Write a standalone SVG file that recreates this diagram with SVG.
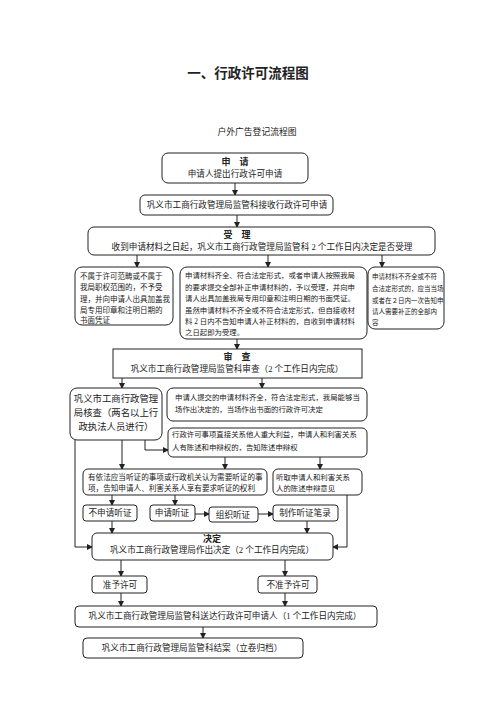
<svg xmlns="http://www.w3.org/2000/svg" width="496" height="702" viewBox="0 0 496 702">
<style>
text{font-family:"Liberation Serif","Noto Sans CJK SC",serif;fill:#222;text-anchor:middle}
.b{fill:#fff;stroke:#222;stroke-width:1}
.t{font-size:8.6px}
.s{font-size:7.4px;text-anchor:start}
.l{font-size:7.5px;text-anchor:start}
.r{font-size:6.5px;text-anchor:start}
.h{font-size:9px;font-weight:bold;font-family:"Noto Sans CJK SC",sans-serif}
.c{fill:none;stroke:#222;stroke-width:1;marker-end:url(#a)}
</style>
<defs>
<marker id="a" markerWidth="6" markerHeight="6" refX="5" refY="3" orient="auto" markerUnits="userSpaceOnUse">
<path d="M0,0 L6,3 L0,6 z" fill="#222"/>
</marker>
</defs>
<rect width="496" height="702" fill="#fff"/>
<text x="248" y="78" style="font-size:13.5px;font-weight:bold;font-family:'Noto Sans CJK SC',sans-serif">一、行政许可流程图</text>
<text x="257" y="135" style="font-size:8.8px;font-family:'Noto Sans CJK SC',sans-serif">户外广告登记流程图</text>

<g id="connectors">
<path class="c" d="M235,183 V195"/>
<path class="c" d="M237,215 V227"/>
<path class="c" d="M137,255 V267"/>
<path class="c" d="M268,255 V267"/>
<path class="c" d="M382,255 V267"/>
<path class="c" d="M237,339 V349"/>
<path class="c" d="M122,378 V388"/>
<path class="c" d="M262,378 V388"/>
<path class="c" d="M122,440 V469"/>
<path class="c" d="M145,440 V450 H168"/>
<path class="c" d="M75,440 V547 H92"/>
<path class="c" d="M225,457 V469"/>
<path class="c" d="M320,457 V469"/>
<path class="c" d="M347,495 V547 H333"/>
<path class="c" d="M112,495 V505"/>
<path class="c" d="M175,495 V505"/>
<path class="c" d="M195,514 H209"/>
<path class="c" d="M258,514 H273"/>
<path class="c" d="M112,521 V533"/>
<path class="c" d="M307,521 V533"/>
<path class="c" d="M121,560 V576"/>
<path class="c" d="M285,560 V576"/>
<path class="c" d="M121,593 V606"/>
<path class="c" d="M285,593 V606"/>
<path class="c" d="M203,627 V638"/>
</g>

<g id="n1"><rect class="b" x="162" y="153" width="146" height="30" rx="6"/>
<text class="h" x="235" y="165">申　请</text>
<text class="t" x="235" y="177">申请人提出行政许可申请</text></g>

<g id="n2"><rect class="b" x="140" y="195" width="193" height="20" rx="5"/>
<text class="t" x="237" y="208">巩义市工商行政管理局监管科接收行政许可申请</text></g>

<g id="n3"><rect class="b" x="88" y="227" width="347" height="28" rx="6"/>
<text class="h" x="237" y="238">受　理</text>
<text class="t" x="262" y="250">收到申请材料之日起，巩义市工商行政管理局监管科 2 个工作日内决定是否受理</text></g>

<g id="n4"><rect class="b" x="75" y="267" width="98" height="58" rx="7"/>
<text class="l" x="80" y="279">不属于许可范畴或不属于</text>
<text class="l" x="80" y="290">我局职权范围的，不予受</text>
<text class="l" x="80" y="302">理，并向申请人出具加盖我</text>
<text class="l" x="80" y="313">局专用印章和注明日期的</text>
<text class="l" x="80" y="323">书面凭证</text></g>

<g id="n5"><rect class="b" x="180" y="267" width="187" height="72" rx="7"/>
<text class="s" x="185" y="278">申请材料齐全、符合法定形式，或者申请人按照我局</text>
<text class="s" x="185" y="290">的要求提交全部补正申请材料的，予以受理，并向申</text>
<text class="s" x="185" y="301">请人出具加盖我局专用印章和注明日期的书面凭证。</text>
<text class="s" x="185" y="313">虽然申请材料不齐全或不符合法定形式，但自接收材</text>
<text class="s" x="185" y="324">料 2 日内不告知申请人补正材料的，自收到申请材料</text>
<text class="s" x="185" y="335">之日起即为受理。</text></g>

<g id="n6"><rect class="b" x="368" y="267" width="76" height="62" rx="7"/>
<text class="r" x="372" y="279">申请材料不齐全或不符</text>
<text class="r" x="372" y="291">合法定形式的，应当当场</text>
<text class="r" x="372" y="303">或者在２日内一次告知申</text>
<text class="r" x="372" y="314">请人需要补正的全部内</text>
<text class="r" x="372" y="325">容</text></g>

<g id="n7"><rect class="b" x="113" y="349" width="249" height="29"/>
<text class="h" x="237" y="360">审　查</text>
<text class="t" x="237" y="372">巩义市工商行政管理局监管科审查（2 个工作日内完成）</text></g>

<g id="n8"><rect class="b" x="70" y="388" width="92" height="52" rx="7"/>
<text x="116" y="402" style="font-size:9.4px">巩义市工商行政管理</text>
<text x="116" y="416" style="font-size:9.4px">局核查（两名以上行</text>
<text x="116" y="430" style="font-size:9.4px">政执法人员进行）</text></g>

<g id="n9"><rect class="b" x="167" y="388" width="200" height="33" rx="6"/>
<text class="s" x="175" y="400">申请人提交的申请材料齐全，符合法定形式，我局能够当</text>
<text class="s" x="175" y="412">场作出决定的，当场作出书面的行政许可决定</text></g>

<g id="n10"><rect class="b" x="168" y="428" width="199" height="29" rx="5"/>
<text class="s" x="172" y="437">行政许可事项直接关系他人重大利益，申请人和利害关系</text>
<text class="s" x="172" y="450">人有陈述和申辩权的，告知陈述申辩权</text></g>

<g id="n11"><rect class="b" x="83" y="469" width="184" height="26" rx="5"/>
<text class="s" x="88" y="480" style="font-size:7.6px">有依法应当听证的事项或行政机关认为需要听证的事</text>
<text class="s" x="88" y="491" style="font-size:7.6px">项，告知申请人、利害关系人享有要求听证的权利</text></g>

<g id="n12"><rect class="b" x="273" y="469" width="89" height="26" rx="5"/>
<text class="s" x="276" y="480">听取申请人和利害关系</text>
<text class="s" x="276" y="491">人的陈述申辩意见</text></g>

<g id="n13"><rect class="b" x="83" y="505" width="54" height="16" rx="3"/>
<text class="t" x="110" y="516">不申请听证</text></g>
<g id="n14"><rect class="b" x="150" y="505" width="45" height="16" rx="3"/>
<text class="t" x="172" y="516">申请听证</text></g>
<g id="n15"><rect class="b" x="209" y="507" width="49" height="15" rx="3"/>
<text class="t" x="233" y="518">组织听证</text></g>
<g id="n16"><rect class="b" x="273" y="505" width="65" height="16" rx="3"/>
<text class="t" x="305" y="516">制作听证笔录</text></g>

<g id="n17"><rect class="b" x="92" y="533" width="241" height="27" rx="5"/>
<text class="h" x="212" y="542">决定</text>
<text class="t" x="212" y="553">巩义市工商行政管理局作出决定（2 个工作日内完成）</text></g>

<g id="n18"><rect class="b" x="92" y="576" width="55" height="17" rx="3"/>
<text class="t" x="120" y="588">准予许可</text></g>
<g id="n19"><rect class="b" x="258" y="576" width="59" height="17" rx="3"/>
<text class="t" x="288" y="588">不准予许可</text></g>

<g id="n20"><rect class="b" x="75" y="606" width="302" height="21" rx="4"/>
<text class="t" x="225" y="619">巩义市工商行政管理局监管科送达行政许可申请人（1 个工作日内完成）</text></g>

<g id="n21"><rect class="b" x="83" y="638" width="220" height="20" rx="4"/>
<text class="t" x="192" y="651">巩义市工商行政管理局监管科结案（立卷归档）</text></g>
</svg>
